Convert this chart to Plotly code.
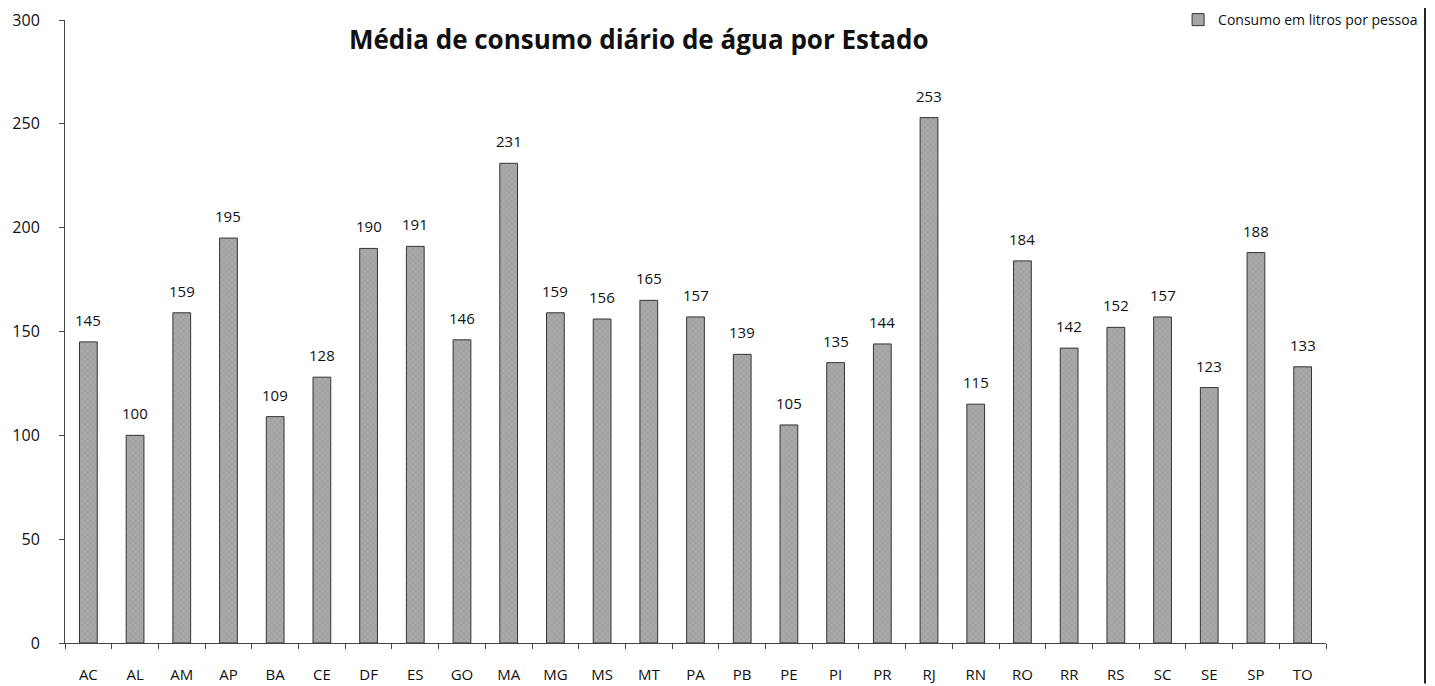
import plotly.graph_objects as go

estados = ["AC", "AL", "AM", "AP", "BA", "CE", "DF", "ES", "GO", "MA", "MG", "MS", "MT", "PA",
           "PB", "PE", "PI", "PR", "RJ", "RN", "RO", "RR", "RS", "SC", "SE", "SP", "TO"]
consumo = [145, 100, 159, 195, 109, 128, 190, 191, 146, 231, 159, 156, 165, 157,
           139, 105, 135, 144, 253, 115, 184, 142, 152, 157, 123, 188, 133]
y_ticks = [0, 50, 100, 150, 200, 250, 300]

FONT = "Open Sans"

fig = go.Figure()
fig.add_trace(go.Bar(
    x=estados, y=consumo, name="Consumo em litros por pessoa",
    width=0.38,
    marker=dict(color="#a9a9a9", line=dict(color="#333333", width=1),
                pattern=dict(shape="x", fgcolor="#8a8a8a", size=4, solidity=0.3)),
))

annotations = [dict(x=e, y=v, xref="x", yref="y", text=str(v), showarrow=False,
                    yanchor="bottom", yshift=10,
                    font=dict(family=FONT, size=15, color="#111111"))
               for e, v in zip(estados, consumo)]

fig.update_layout(
    width=1419, height=678,
    margin=dict(l=57, r=101, t=12, b=43, autoexpand=False),
    plot_bgcolor="white", paper_bgcolor="white",
    font=dict(family=FONT, color="#111111"),
    title=dict(text="<b>Média de consumo diário de água por Estado</b>",
               x=0.455, xref="paper", xanchor="center",
               y=0.953, yref="container", yanchor="middle",
               font=dict(family=FONT, size=26, color="#111111")),
    showlegend=True,
    legend=dict(x=1.077, xanchor="right", y=1.0, yanchor="middle",
                font=dict(family=FONT, size=14, color="#111111"),
                bgcolor="rgba(0,0,0,0)", itemwidth=30),
    xaxis=dict(showline=True, linecolor="#444444", linewidth=1, ticks="outside",
               tickson="boundaries", ticklen=5, tickcolor="#444444",
               tickfont=dict(family=FONT, size=15), showgrid=False,
               ticklabelstandoff=18),
    yaxis=dict(range=[0, 300], tickvals=y_ticks, showline=True, linecolor="#444444",
               linewidth=1, ticks="outside", ticklen=5, tickcolor="#444444",
               tickfont=dict(family=FONT, size=16), showgrid=False, zeroline=False,
               ticklabelstandoff=16),
    annotations=annotations,
    shapes=[dict(type="line", xref="paper", yref="paper", x0=1.0785, x1=1.0785,
                 y0=-0.065, y1=1.02, line=dict(color="#222222", width=2))],
)

fig.write_html("out.html")
